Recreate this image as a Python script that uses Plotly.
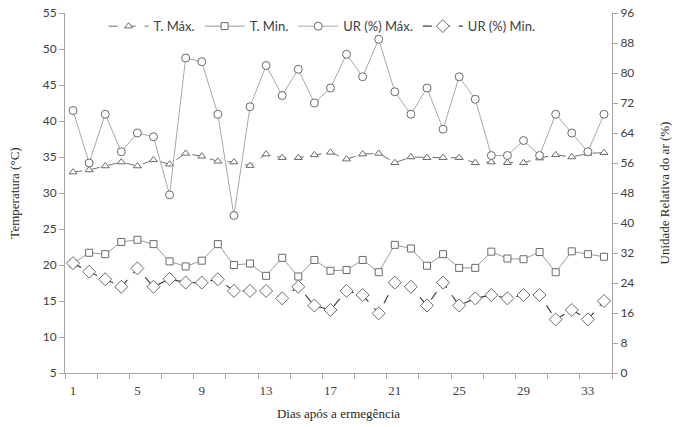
import plotly.graph_objects as go

days = list(range(1, 35))
t_max = [32.9, 33.2, 33.75, 34.3, 33.75, 34.6, 34.0, 35.5, 35.1, 34.4, 34.3, 33.8, 35.4, 34.9, 34.9, 35.3, 35.65,
         34.7, 35.4, 35.5, 34.2, 35.0, 34.9, 34.9, 34.9, 34.2, 34.3, 34.2, 34.2, 34.85, 35.3, 35.0, 35.5, 35.6]
t_min = [20.2, 21.7, 21.5, 23.2, 23.5, 22.9, 20.5, 19.8, 20.6, 22.9, 20.0, 20.2, 18.5, 21.0, 18.4, 20.7, 19.2,
         19.3, 20.7, 19.0, 22.8, 22.3, 19.9, 21.5, 19.6, 19.6, 21.85, 20.9, 20.8, 21.8, 19.0, 21.9, 21.5, 21.15]
ur_max = [70, 56, 69, 59, 64, 63, 47.5, 84, 83, 69, 42, 71, 82, 74, 81, 72, 76,
          85, 79, 89, 75, 69, 76, 65, 79, 73, 58, 58, 62, 58, 69, 64, 59, 69]
ur_min = [29.3, 27.0, 25.0, 23.0, 27.9, 23.0, 25.1, 24.1, 24.1, 25.0, 21.9, 21.9, 21.9, 19.9, 23.0, 18.0, 16.8,
          21.9, 20.8, 15.9, 24.1, 23.0, 18.0, 24.1, 18.0, 19.9, 20.8, 19.9, 20.8, 20.8, 14.3, 16.8, 14.3, 19.2]

x_labels = list(range(1, 34, 4))

fig = go.Figure()
mk = dict(color="white", line=dict(color="#6a6a6a", width=1))
fig.add_trace(go.Scatter(x=days, y=t_max, name="T. Máx.", mode="lines+markers",
                         line=dict(color="#707070", width=1, dash="dash"),
                         marker=dict(symbol="triangle-up", size=7, **mk)))
fig.add_trace(go.Scatter(x=days, y=t_min, name="T. Min.", mode="lines+markers",
                         line=dict(color="#9a9a9a", width=1),
                         marker=dict(symbol="square", size=7, **mk)))
fig.add_trace(go.Scatter(x=days, y=ur_max, name="UR (%) Máx.", mode="lines+markers", yaxis="y2",
                         line=dict(color="#a8a8a8", width=1),
                         marker=dict(symbol="circle", size=8, **mk)))
fig.add_trace(go.Scatter(x=days, y=ur_min, name="UR (%) Min.", mode="lines+markers", yaxis="y2",
                         line=dict(color="#404040", width=1.2, dash="dash"),
                         marker=dict(symbol="diamond", size=10, **mk)))

axis_col = "#a6a6a6"
tick_font = dict(family="Lato, Liberation Sans, sans-serif", size=12, color="#404040")
xtick_font = dict(family="Liberation Serif, serif", size=13, color="#404040")
title_font = dict(family="Liberation Serif, serif", size=13, color="#262626")

fig.update_layout(
    width=683, height=427,
    margin=dict(l=65, r=71, t=13, b=54, autoexpand=False),
    paper_bgcolor="white", plot_bgcolor="white",
    showlegend=True,
    legend=dict(orientation="h", x=0.47, xanchor="center", y=1.005, yanchor="top",
                bgcolor="rgba(0,0,0,0)", font=dict(family="Lato, Liberation Sans, sans-serif", size=13, color="#404040"),
                itemwidth=40, tracegroupgap=0),
    xaxis=dict(range=[0.5, 34.5], tickmode="array", tickvals=x_labels, ticktext=[str(v) for v in x_labels],
               ticks="", showgrid=False, zeroline=False, showline=True, linecolor=axis_col, linewidth=1,
               tickfont=xtick_font, automargin=False, ticklabelstandoff=5,
               minor=dict(tickmode="linear", tick0=0.5, dtick=2, ticks="outside", ticklen=5, tickcolor=axis_col,
                          showgrid=False),
               title=dict(text="Dias após a ermegência", font=title_font, standoff=12)),
    yaxis=dict(range=[5, 55], dtick=5, tick0=5, ticks="outside", ticklen=5, tickcolor=axis_col,
               showgrid=False, zeroline=False, showline=True, linecolor=axis_col, linewidth=1,
               tickfont=tick_font, automargin=False,
               title=dict(text="Temperatura (°C)", font=title_font, standoff=20)),
    yaxis2=dict(range=[0, 96], dtick=8, tick0=0, overlaying="y", side="right", ticks="outside", ticklen=5,
                tickcolor=axis_col, showgrid=False, zeroline=False, showline=True, linecolor=axis_col, linewidth=1,
                tickfont=tick_font, automargin=False,
                title=dict(text="Unidade Relativa do ar (%)", font=title_font, standoff=26)),
)

fig.write_html("out.html", config={"displayModeBar": False},
               post_script="document.body.style.margin='0';document.documentElement.style.overflow='hidden';")
